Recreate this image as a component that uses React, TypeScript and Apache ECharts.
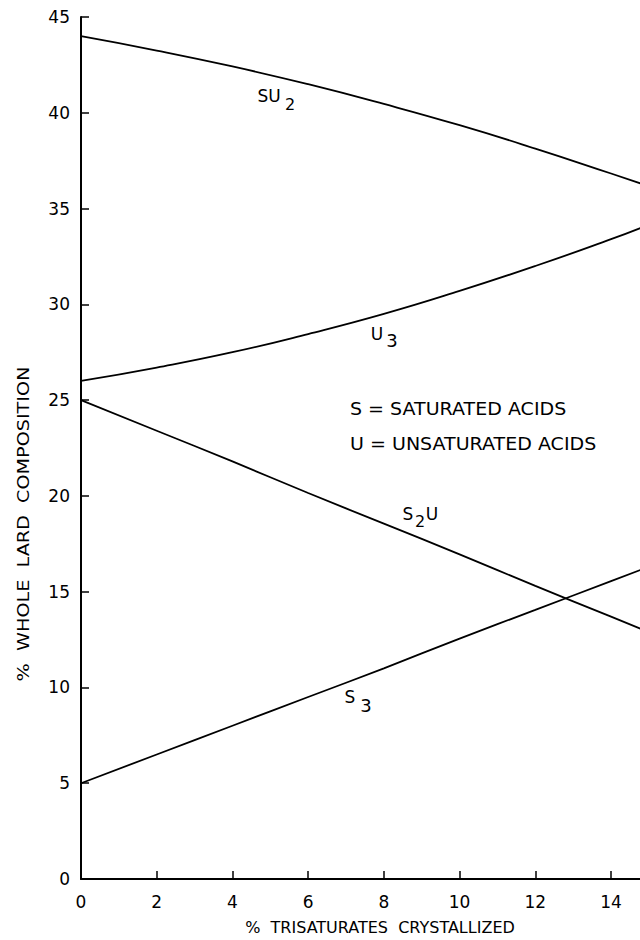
import React, { useEffect, useRef } from "react";
import * as echarts from "echarts";

const xValues = [0, 2, 4, 6, 8, 10, 12, 14, 14.8];
const su2 = [44, 43.25, 42.42, 41.49, 40.46, 39.35, 38.13, 36.83, 36.3];
const u3 = [26, 26.7, 27.5, 28.45, 29.5, 30.7, 32.0, 33.4, 34.0];
const s2u = [25, 23.4, 21.8, 20.15, 18.55, 16.95, 15.3, 13.7, 13.05];
const s3 = [5, 6.5, 8.0, 9.5, 11.0, 12.55, 14.05, 15.55, 16.15];

const yTicks = [0, 5, 10, 15, 20, 25, 30, 35, 40, 45];
const xTicks = [0, 2, 4, 6, 8, 10, 12, 14];

const FONT = "DejaVu Sans";

function pairs(ys: number[]) {
  return xValues.map((x, i) => [x, ys[i]]);
}

export default function App() {
  const ref = useRef<HTMLDivElement>(null);
  useEffect(() => {
    if (!ref.current) return;
    const chart = echarts.init(ref.current, undefined, { renderer: "svg" });
    const lineStyle = { color: "#000", width: 1.8 };
    const txt = (text: string, x: number, y: number, size = 17, extra: any = {}, sx = 1) => ({
      type: "text",
      x,
      y,
      scaleX: sx,
      style: {
        text,
        fill: "#000",
        font: `${size}px "${FONT}"`,
        textAlign: "center",
        textVerticalAlign: "middle",
        ...extra,
      },
    });
    chart.setOption({
      animation: false,
      backgroundColor: "#fff",
      grid: { left: 81, top: 17, right: 0, bottom: 61, containLabel: false },
      xAxis: {
        type: "value",
        min: 0,
        max: 14.765,
        interval: 2,
        axisLine: { show: true, lineStyle: { color: "#000", width: 2 } },
        axisTick: { show: true, inside: true, length: 8, lineStyle: { color: "#000", width: 1.5 } },
        axisLabel: {
          color: "#000",
          fontFamily: FONT,
          fontSize: 17,
          margin: 14,
          showMaxLabel: false,
          formatter: (v: number) => (xTicks.includes(v) ? String(v) : ""),
        },
        splitLine: { show: false },
      },
      yAxis: {
        type: "value",
        min: 0,
        max: 45,
        interval: 5,
        axisLine: { show: true, lineStyle: { color: "#000", width: 2 } },
        axisTick: { show: true, inside: true, length: 8, lineStyle: { color: "#000", width: 1.5 } },
        axisLabel: {
          color: "#000",
          fontFamily: FONT,
          fontSize: 17,
          margin: 11,
          formatter: (v: number) => (yTicks.includes(v) ? String(v) : ""),
        },
        splitLine: { show: false },
      },
      series: [
        { name: "SU2", type: "line", data: pairs(su2), smooth: true, symbol: "none", lineStyle },
        { name: "U3", type: "line", data: pairs(u3), smooth: true, symbol: "none", lineStyle },
        { name: "S2U", type: "line", data: pairs(s2u), smooth: true, symbol: "none", lineStyle },
        { name: "S3", type: "line", data: pairs(s3), smooth: true, symbol: "none", lineStyle },
      ],
      graphic: [
        txt("SU", 269, 96, 17),
        txt("2", 290, 104, 16),
        txt("U", 377, 334, 17),
        txt("3", 392, 340, 18),
        txt("S", 408, 514, 17),
        txt("2", 420, 521, 16),
        txt("U", 432, 514, 17),
        txt("S", 350, 697, 17),
        txt("3", 366, 705, 18),
        txt("S = SATURATED ACIDS", 350, 409, 17, { textAlign: "left" }, 1.12),
        txt("U = UNSATURATED ACIDS", 350, 444, 17, { textAlign: "left" }, 1.12),
        txt("%  TRISATURATES  CRYSTALLIZED", 380, 927, 16, {}, 1.0),
        {
          type: "text",
          x: 24,
          y: 524,
          rotation: Math.PI / 2,
          scaleX: 1.2,
          style: {
            text: "%  WHOLE  LARD  COMPOSITION",
            fill: "#000",
            font: `16px "${FONT}"`,
            textAlign: "center",
            textVerticalAlign: "middle",
          },
        },
      ],
    });
    return () => chart.dispose();
  }, []);
  return (
    <div
      ref={ref}
      style={{ position: "fixed", left: 0, top: 0, width: 640, height: 940, background: "#fff" }}
    />
  );
}
